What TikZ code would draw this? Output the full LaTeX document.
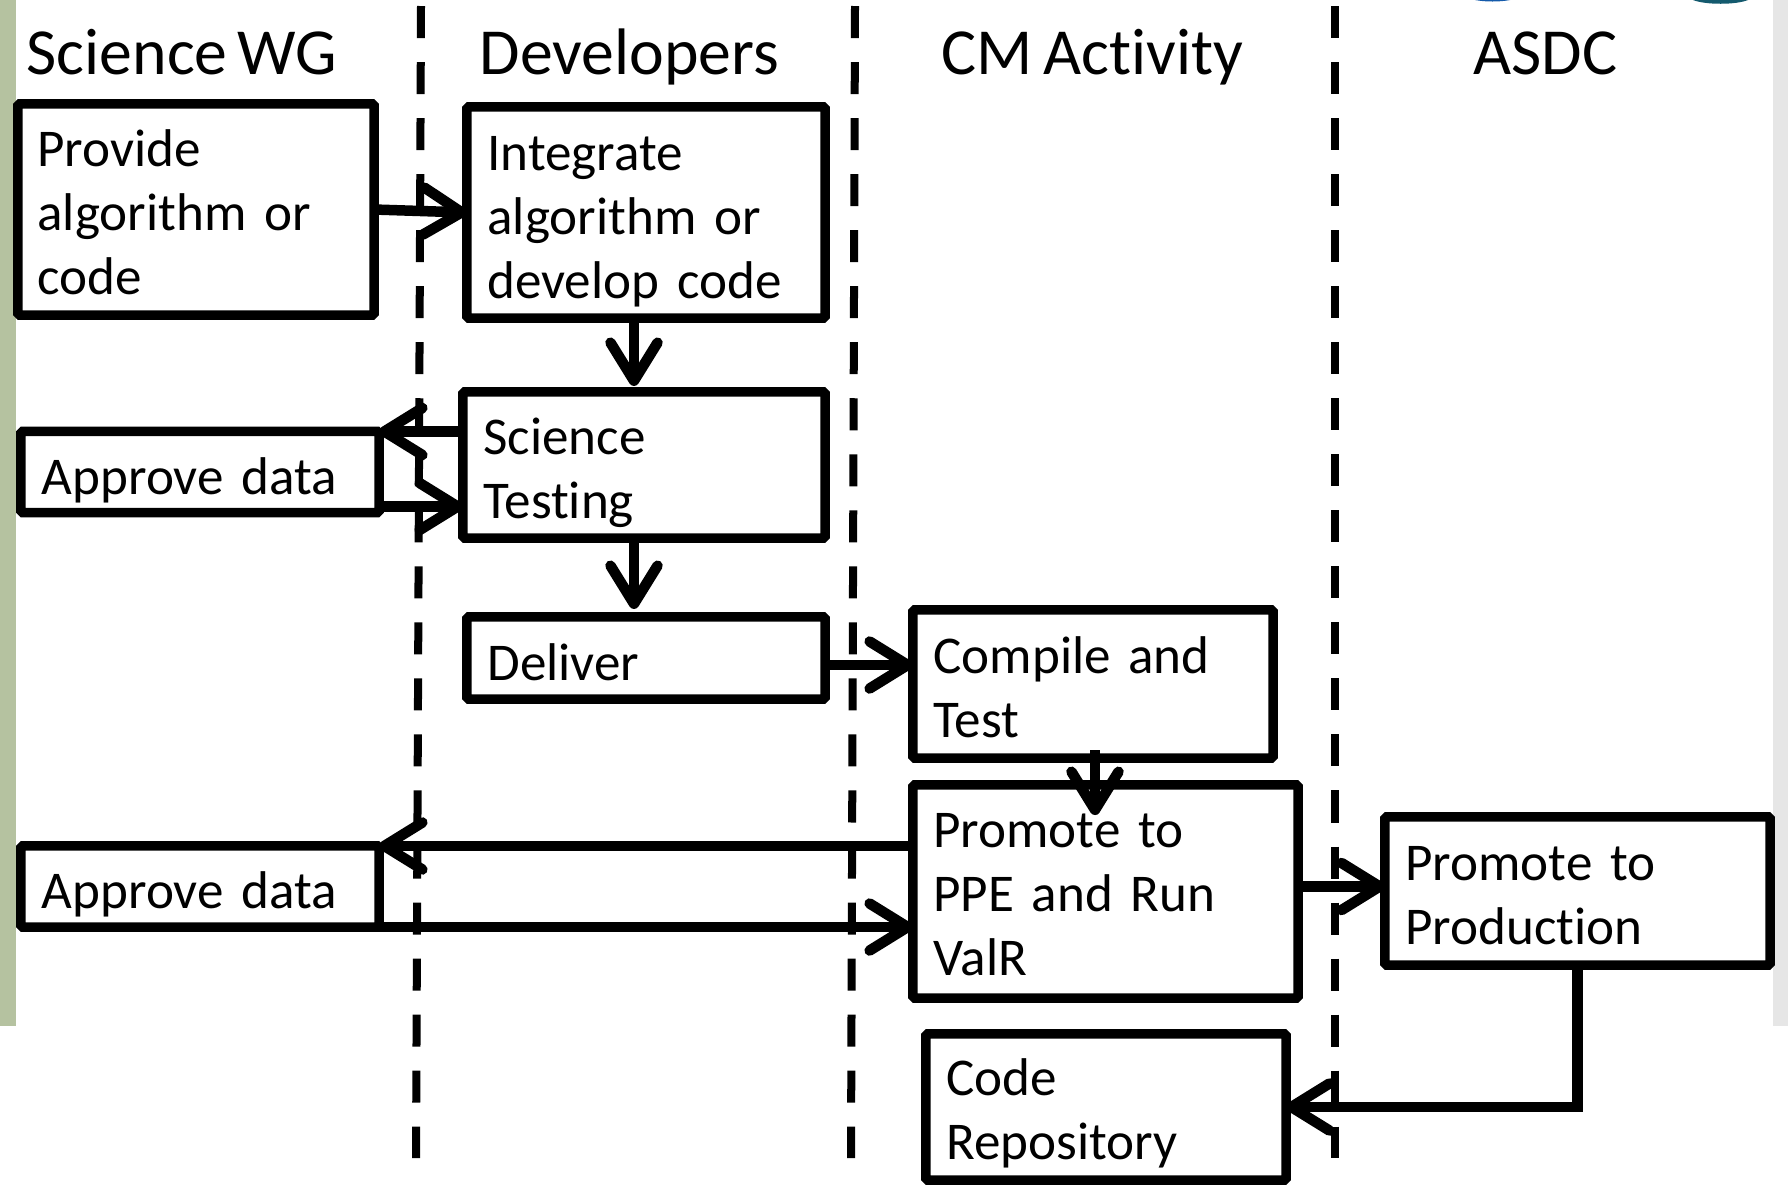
\documentclass[tikz,border=0pt]{standalone}
\usepackage{fontspec}
\setmainfont[WordSpace=0.7,RawFeature={-liga;-clig;-calt;-dlig}]{Carlito}
\usetikzlibrary{calc}
\usetikzlibrary{arrows.meta}
\tikzset{
	stepbox/.style = {draw, line width=0.095cm, outer sep=0pt, rounded corners=0.5pt, anchor=center, inner sep=0pt, align=left, font=\fontsize{15.1}{18.2}\selectfont},
	drop/.style = {execute at begin node={\rule{0pt}{\dimexpr 11pt+#1\relax}}},
	flow/.style = {line width=0.105cm, -{Straight Barb[length=0.38cm, width=0.47cm, line width=0.105cm, round]}},
	lane/.style = {line width=0.08cm, dash pattern=on 0.32cm off 0.24cm},
	head/.style = {anchor=base west, inner sep=0pt, font=\fontsize{18.7}{24}\selectfont},
}
\begin{document}
\begin{tikzpicture}[x=0.01cm, y=-0.01cm]
	\useasboundingbox (0,0) rectangle (1788,1187);
	
	\fill[fill={rgb,255:red,181;green,194;blue,160}] (0,0) rectangle (16,1026); % left bar
	\fill[fill={rgb,255:red,230;green,230;blue,230}] (1773,0) rectangle (1788,1026); % right bar
	\fill[fill={rgb,255:red,20;green,90;blue,170}] (1475,0) .. controls (1485,2) and (1500,2) .. (1510,0) -- cycle;
	\fill[fill={rgb,255:red,20;green,90;blue,110}] (1693,0) .. controls (1705,5) and (1736,5) .. (1748,0) -- cycle;
	
	\draw[lane] (421,6) -- (416,1158);
	\draw[lane] (855,6) -- (851,1158);
	\draw[lane] (1335,6) -- (1335,1158);
	
	\node[head] (wg) at (26,74) {Science WG};
	\node[head] (dev) at (479,74) {Developers};
	\node[head] (cm) at (941,74) {CM Activity};
	\node[head] (asdc) at (1473,74) {ASDC};
	
	\node[stepbox, drop=0.03cm, minimum width=3.56cm, minimum height=2.11cm, text width=3.17cm] (provide) at (196,209.5) {Provide\\algorithm or\\code};
	\node[stepbox, drop=0.14cm, minimum width=3.58cm, minimum height=2.11cm, text width=3.17cm] (integrate) at (646,212.5) {Integrate\\algorithm or\\develop code};
	\node[stepbox, drop=0.13cm, minimum width=3.62cm, minimum height=1.46cm, text width=3.21cm] (science) at (644,465) {Science\\Testing};
	\node[stepbox, drop=0.14cm, minimum width=3.58cm, minimum height=0.81cm, text width=3.16cm] (approveA) at (200,472) {Approve data};
	\node[stepbox, drop=0.07cm, minimum width=3.58cm, minimum height=0.82cm, text width=3.17cm] (deliver) at (646,658) {Deliver};
	\node[stepbox, drop=0.05cm, minimum width=3.60cm, minimum height=1.48cm, text width=3.19cm] (compile) at (1093,684) {Compile and\\Test};
	\node[stepbox, drop=0.02cm, minimum width=3.85cm, minimum height=2.13cm, text width=3.44cm] (ppe) at (1105.5,891.5) {Promote to\\PPE and Run\\ValR};
	\node[stepbox, drop=0.14cm, minimum width=3.58cm, minimum height=0.81cm, text width=3.16cm] (approveB) at (200,886.5) {Approve data};
	\node[stepbox, drop=0.05cm, minimum width=3.85cm, minimum height=1.48cm, text width=3.44cm] (production) at (1577.5,891) {Promote to\\Production};
	\node[stepbox, drop=0.11cm, minimum width=3.60cm, minimum height=1.46cm, text width=3.19cm] (repo) at (1106,1107) {Code\\Repository};
	
	\draw[flow] (provide.east) -- (integrate.west);
	\draw[flow] ($(integrate.south)+(-12,0)$) -- ($(science.north)+(-10,-6)$);
	\draw[flow] (science.west |- approveA.north east) -- (approveA.north east);
	\draw[flow] ($(approveA.south east)+(0,-6)$) -- ($(science.west |- approveA.south east)+(0,-6)$);
	\draw[flow] ($(science.south)+(-10,0)$) -- ($(deliver.north)+(-12,-8)$);
	\draw[flow] (deliver.east) ++(0,7) -- ($(compile.west |- deliver.east)+(0,7)$);
	\draw[flow] ($(compile.south)+(2,-8)$) -- ($(compile.south)+(2,57)$);
	\draw[flow] (ppe.west |- approveB.north east) -- (approveB.north east);
	\draw[flow] (approveB.south east) -- (ppe.west |- approveB.south east);
	\draw[flow] (ppe.east) ++(0,-5) -- ($(production.west |- ppe.east)+(0,-5)$);
	\draw[flow] (production.south) |- (repo.east);
\end{tikzpicture}
\end{document}
